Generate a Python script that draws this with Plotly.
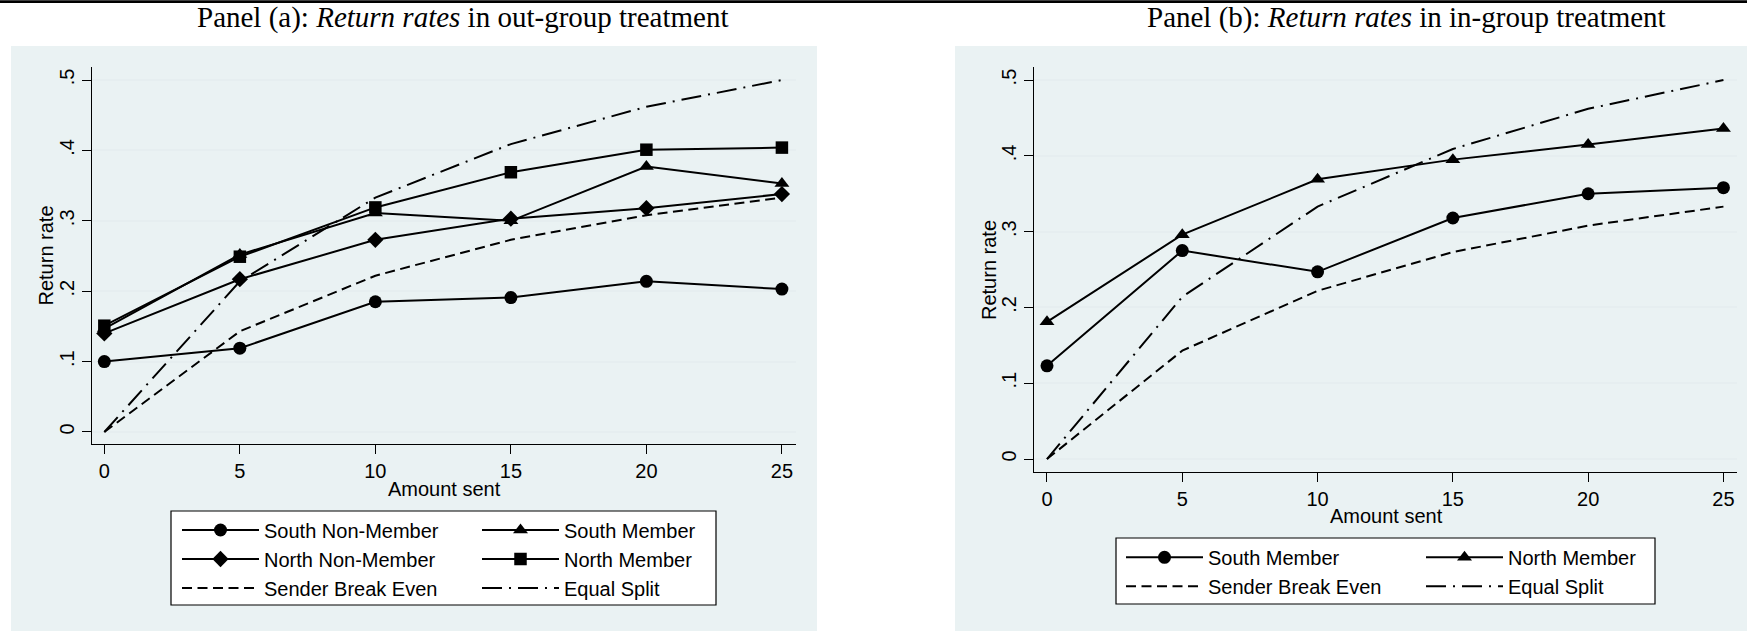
import plotly.graph_objects as go

W, H = 1747, 631

amount_sent = [0, 5, 10, 15, 20, 25]

# Panel (a): out-group treatment
out_south_nonmember = [0.100, 0.119, 0.185, 0.191, 0.214, 0.203]
out_south_member = [0.147, 0.252, 0.311, 0.300, 0.377, 0.353]
out_north_nonmember = [0.140, 0.217, 0.273, 0.303, 0.318, 0.338]
out_north_member = [0.151, 0.249, 0.319, 0.369, 0.401, 0.404]

# Panel (b): in-group treatment
in_south_member = [0.123, 0.275, 0.247, 0.318, 0.350, 0.358]
in_north_member = [0.181, 0.296, 0.369, 0.395, 0.415, 0.436]

# Benchmarks shared by both panels
sender_break_even = [0, 0.143, 0.222, 0.273, 0.308, 0.333]
equal_split = [0, 0.214, 0.333, 0.409, 0.462, 0.500]

y_ticks = [0, 0.1, 0.2, 0.3, 0.4, 0.5]
y_tick_text = ["0", ".1", ".2", ".3", ".4", ".5"]
x_ticks = [0, 5, 10, 15, 20, 25]

SANS = "Liberation Sans, Arial, sans-serif"
SERIF = "Liberation Serif, Times New Roman, serif"
REGION = "#eaf2f3"
GRID = "#e6eef0"


def fx(px):
    return px / W


def fy(px):
    return 1 - px / H


def series(x, y, name, xa, ya, legend, symbol=None, dash="solid"):
    mode = "lines+markers" if symbol else "lines"
    tr = go.Scatter(
        x=x, y=y, name=name, mode=mode, xaxis=xa, yaxis=ya, legend=legend,
        line=dict(color="black", width=2, dash=dash),
        cliponaxis=False,
    )
    if symbol:
        size = {"circle": 13, "triangle-up": 13, "diamond": 12.5, "square": 12.5}[symbol]
        tr.marker = dict(symbol=symbol, size=size, color="black", line=dict(width=0))
    return tr


DASH = "10px,5.5px"
DASHDOT = "20px,7px,2px,7px"

fig = go.Figure()
# Panel (a)
fig.add_trace(series(amount_sent, out_south_nonmember, "South Non-Member", "x", "y", "legend", "circle"))
fig.add_trace(series(amount_sent, out_south_member, "South Member", "x", "y", "legend2", "triangle-up"))
fig.add_trace(series(amount_sent, out_north_nonmember, "North Non-Member", "x", "y", "legend", "diamond"))
fig.add_trace(series(amount_sent, out_north_member, "North Member", "x", "y", "legend2", "square"))
fig.add_trace(series(amount_sent, sender_break_even, "Sender Break Even", "x", "y", "legend", dash=DASH))
fig.add_trace(series(amount_sent, equal_split, "Equal Split", "x", "y", "legend2", dash=DASHDOT))
# Panel (b)
fig.add_trace(series(amount_sent, in_south_member, "South Member", "x2", "y2", "legend3", "circle"))
fig.add_trace(series(amount_sent, in_north_member, "North Member", "x2", "y2", "legend4", "triangle-up"))
fig.add_trace(series(amount_sent, sender_break_even, "Sender Break Even", "x2", "y2", "legend3", dash=DASH))
fig.add_trace(series(amount_sent, equal_split, "Equal Split", "x2", "y2", "legend4", dash=DASHDOT))

tickfont = dict(family=SANS, size=20, color="black")


def xaxis(domain, rng, anchor):
    return dict(
        domain=domain, range=rng, anchor=anchor, tickvals=x_ticks,
        showgrid=False, zeroline=False, showline=True, linecolor="black", linewidth=1.3,
        ticks="outside", ticklen=9, tickwidth=1.3, tickcolor="black",
        tickfont=tickfont, automargin=False, fixedrange=True,
    )


def yaxis(domain, rng, anchor):
    return dict(
        domain=domain, range=rng, anchor=anchor, tickvals=y_ticks, ticktext=y_tick_text,
        tickangle=-90, showgrid=True, gridcolor=GRID, gridwidth=1.5, zeroline=False,
        showline=True, linecolor="black", linewidth=1.3,
        ticks="outside", ticklen=9, tickwidth=1.3, tickcolor="black",
        tickfont=tickfont, automargin=False, fixedrange=True,
    )


def legend_at(x_px, y_px):
    return dict(
        x=fx(x_px), y=fy(y_px), xanchor="left", yanchor="top", orientation="v",
        bgcolor="rgba(0,0,0,0)", borderwidth=0, itemwidth=77, tracegroupgap=0,
        font=dict(family=SANS, size=20, color="black"),
    )


shapes = [
    # background regions of the two graphs
    dict(type="rect", xref="paper", yref="paper", x0=fx(11), x1=fx(817), y0=0, y1=fy(46),
         fillcolor=REGION, line=dict(width=0), layer="below"),
    dict(type="rect", xref="paper", yref="paper", x0=fx(955), x1=1, y0=0, y1=fy(46),
         fillcolor=REGION, line=dict(width=0), layer="below"),
    # legend boxes
    dict(type="rect", xref="paper", yref="paper", x0=fx(171), x1=fx(716), y0=fy(605), y1=fy(511),
         fillcolor="white", line=dict(color="black", width=1.2), layer="below"),
    dict(type="rect", xref="paper", yref="paper", x0=fx(1116), x1=fx(1655), y0=fy(604), y1=fy(538),
         fillcolor="white", line=dict(color="black", width=1.2), layer="below"),
    # rule along the top edge
    dict(type="line", xref="paper", yref="paper", x0=0, x1=1, y0=fy(1.6), y1=fy(1.6),
         line=dict(color="black", width=2.6)),
]

labfont = dict(family=SANS, size=20, color="black")
titfont = dict(family=SERIF, size=29, color="black")
annotations = [
    dict(text="Panel (a): <i>Return rates</i> in out-group treatment", x=fx(463), y=fy(18),
         xref="paper", yref="paper", showarrow=False, xanchor="center", yanchor="middle", font=titfont),
    dict(text="Panel (b): <i>Return rates</i> in in-group treatment", x=fx(1406), y=fy(18),
         xref="paper", yref="paper", showarrow=False, xanchor="center", yanchor="middle", font=titfont),
    dict(text="Amount sent", x=fx(444), y=fy(489), xref="paper", yref="paper", showarrow=False,
         xanchor="center", yanchor="middle", font=labfont),
    dict(text="Amount sent", x=fx(1386), y=fy(516), xref="paper", yref="paper", showarrow=False,
         xanchor="center", yanchor="middle", font=labfont),
    dict(text="Return rate", x=fx(45), y=fy(255.5), xref="paper", yref="paper", showarrow=False,
         textangle=-90, xanchor="center", yanchor="middle", font=labfont),
    dict(text="Return rate", x=fx(989), y=fy(270), xref="paper", yref="paper", showarrow=False,
         textangle=-90, xanchor="center", yanchor="middle", font=labfont),
]

fig.update_layout(
    width=W, height=H, margin=dict(l=0, r=0, t=0, b=0),
    paper_bgcolor="white", plot_bgcolor="white",
    xaxis=xaxis([fx(92), fx(796)], [-0.455, 25.52], "y"),
    yaxis=yaxis([fy(444.3), fy(67)], [-0.0175, 0.5185], "x"),
    xaxis2=xaxis([fx(1034.3), fx(1736.7)], [-0.469, 25.49], "y2"),
    yaxis2=yaxis([fy(472.3), fy(67)], [-0.0175, 0.5172], "x2"),
    legend=legend_at(177, 510.5),
    legend2=legend_at(477, 510.5),
    legend3=legend_at(1121, 537.8),
    legend4=legend_at(1421, 537.8),
    shapes=shapes,
    annotations=annotations,
    showlegend=True,
)

fig.write_html("out.html")
